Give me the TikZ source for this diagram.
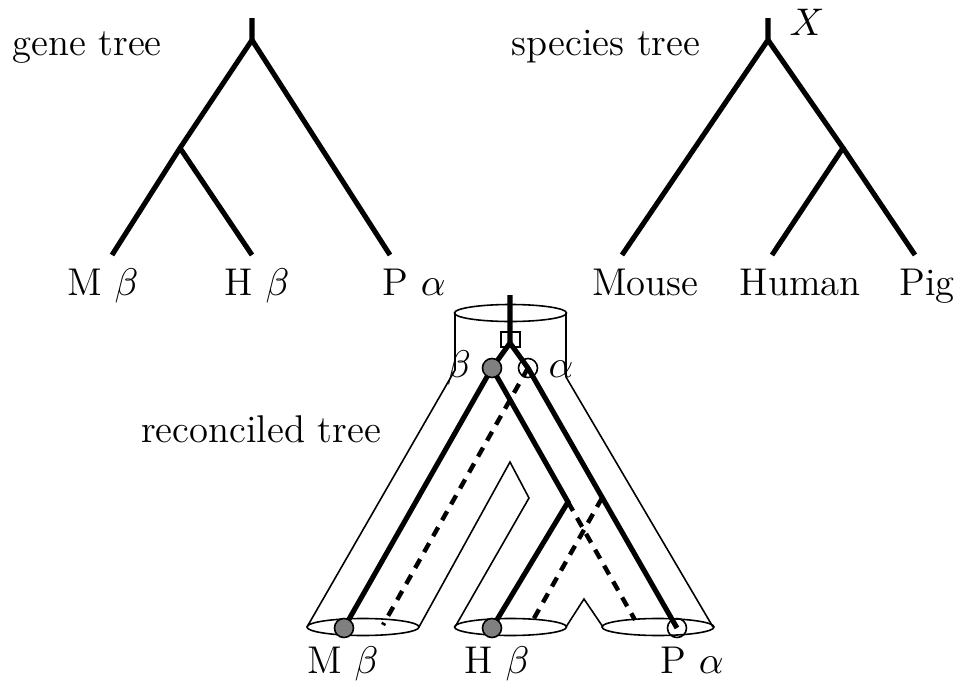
\documentclass[tikz,border=0pt]{standalone}
\usetikzlibrary{positioning}

\begin{document}
\begin{tikzpicture}[
  x=0.01cm, y=-0.01cm,
  branch/.style={line width=1.45pt},
  lost/.style={line width=1.25pt, dash pattern=on 2.9pt off 2.3pt},
  tube/.style={line width=0.45pt},
  tubeend/.style={tube, x radius=0.56cm, y radius=0.085cm},
  dup/.style={draw, line width=0.45pt, minimum width=0.19cm, minimum height=0.15cm, inner sep=0pt},
  spec/.style={circle, draw, line width=0.45pt, minimum size=0.19cm, inner sep=0pt},
  lbl/.style={font=\fontsize{11}{13}\selectfont, anchor=base, inner sep=0pt},
]
\useasboundingbox (0,0) rectangle (956,681);

% ============ gene tree ============
\node[lbl] (gtitle) at (87,55) {gene tree};
\coordinate (g-top) at (252,18);
\coordinate (g-root) at (252,40);
\coordinate (g-mh) at (180,148);
\coordinate (g-m) at (112,255);
\coordinate (g-h) at (252,255);
\coordinate (g-p) at (390,255);
\draw[branch] (g-top) -- (g-root) -- (g-mh) -- (g-m);
\draw[branch] (g-mh) -- (g-h);
\draw[branch] (g-root) -- (g-p);
\node[lbl] (gm) at (103,295) {M $\beta$};
\node[lbl] (gh) at (257,295) {H $\beta$};
\node[lbl] (gp) at (414,295) {P $\alpha$};

% ============ species tree ============
\node[lbl] (stitle) at (606,55) {species tree};
\coordinate (s-top) at (768,18);
\coordinate (s-root) at (768,40);
\coordinate (s-hp) at (843,148);
\coordinate (s-m) at (622,255);
\coordinate (s-h) at (772,255);
\coordinate (s-p) at (915,255);
\draw[branch] (s-top) -- (s-root) -- (s-m);
\draw[branch] (s-root) -- (s-hp) -- (s-h);
\draw[branch] (s-hp) -- (s-p);
\node[lbl] (sx) at (807,35) {$X$};
\node[lbl] (sm) at (645.5,295) {Mouse};
\node[lbl] (sh) at (800.5,295) {Human};
\node[lbl] (sp) at (927,295) {Pig};

% ============ reconciled tree: tubes ============
\node[lbl] (rtitle) at (261,442) {reconciled tree};
\draw[tubeend] (510.5,313) ellipse [];
\draw[tubeend] (363,627) ellipse [];
\draw[tubeend] (510.5,627) ellipse [];
\draw[tubeend] (658,627) ellipse [];
% outer walls
\draw[tube] (455,313) -- (455,370) -- (307,627);
\draw[tube] (566,313) -- (566,377) -- (713,627);
% inner walls
\draw[tube] (419,627) -- (510,462) -- (529,498) -- (455,627);
\draw[tube] (566,627) -- (584,599) -- (603,627);

% ============ reconciled tree: gene lineages ============
\node[dup] (r-dupbox) at (510.5,339.5) {};
\coordinate (r-top) at (510,295);
\coordinate (r-dup) at (510,343);
\coordinate (r-b) at (492,368);
\coordinate (r-a) at (528,368);
\coordinate (r-bhp) at (568,502);
\coordinate (r-ahp) at (602,498);
\coordinate (r-mb) at (344,628);
\coordinate (r-hb) at (492,628);
\coordinate (r-pa) at (677,628);
\coordinate (r-ma) at (383,625);
\coordinate (r-ha) at (533,620);
\coordinate (r-pb) at (635,620);
% kept copies
\draw[branch] (r-top) -- (r-dup) -- (r-b) -- (r-mb);
\draw[branch] (r-b) -- (r-bhp) -- (r-hb);
\draw[branch] (r-dup) -- (r-a) -- (r-pa);
% lost copies
\draw[lost] (r-a) -- (r-ma);
\draw[lost] (r-bhp) -- (r-pb);
\draw[lost] (r-ahp) -- (r-ha);
% speciation and leaf marks
\node[spec, fill=black!50] (r-bnode) at (r-b) {};
\node[spec] (r-anode) at (r-a) {};
\node[spec, fill=black!50] (r-mleaf) at (r-mb) {};
\node[spec, fill=black!50] (r-hleaf) at (r-hb) {};
\node[spec] (r-pleaf) at (r-pa) {};
\node[lbl] (rb) at (459,377) {$\beta$};
\node[lbl] (ra) at (561,377) {$\alpha$};
\node[lbl] (rm) at (343,673) {M $\beta$};
\node[lbl] (rh) at (497,673) {H $\beta$};
\node[lbl] (rp) at (692,673) {P $\alpha$};

\end{tikzpicture}
\end{document}
